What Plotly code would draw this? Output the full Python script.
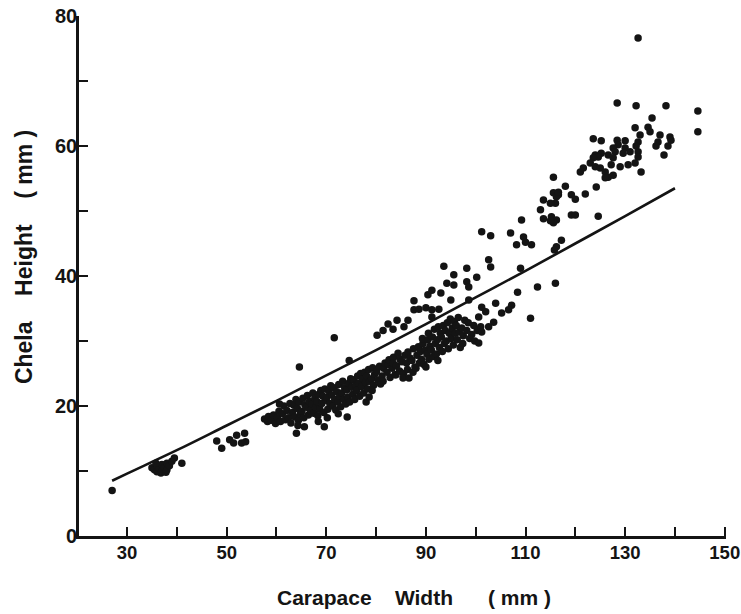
import plotly.graph_objects as go

# ---- data (Carapace width mm, Chela height mm) ----
small_pts = [
    (27, 7.0), (35, 10.5), (35.5, 10.2), (36, 10.8), (36, 9.9), (36.5, 10.4), (36.8, 9.7),
    (37, 10.0), (37, 11.0), (37.5, 10.5), (37.8, 9.8), (38, 10.2), (38, 11.2), (38.5, 10.8),
    (39, 11.5), (39.5, 12.0), (35.8, 11.2), (41, 11.2), (48, 14.6), (49, 13.5), (50.6, 14.8),
    (51.4, 14.3), (52, 15.5), (53, 14.3), (53.6, 15.8), (53.8, 14.5),
]

band_pts = [
    (57.6, 18.0), (58.2, 17.6), (58.4, 18.4), (59.0, 17.8), (59.4, 18.6), (59.8, 17.3),
    (60.2, 18.2), (60.5, 19.2), (60.8, 17.6), (61.2, 18.8), (61.5, 20.0), (61.8, 17.9),
    (62.1, 19.3), (62.4, 18.2), (62.7, 20.4), (62.9, 17.4), (63.2, 19.0), (63.5, 20.1),
    (63.7, 18.3), (63.9, 21.0), (64.2, 19.6), (64.4, 17.8), (64.6, 20.6), (64.8, 18.8),
    (64.3, 17.0), (65.1, 19.2), (65.3, 21.2), (65.5, 18.2), (65.7, 20.2), (65.6, 16.8),
    (66.0, 19.8), (66.2, 21.6), (66.4, 18.6), (66.6, 20.7), (66.8, 19.3), (67.1, 20.3),
    (67.3, 22.0), (67.5, 18.9), (67.7, 21.2), (67.9, 19.8), (68.1, 20.7), (68.3, 18.5),
    (68.5, 21.8), (68.7, 19.5), (68.9, 22.4), (68.4, 17.6), (69.1, 20.4), (69.3, 21.5),
    (69.5, 19.0), (69.7, 22.6), (69.9, 20.9), (70.1, 21.3), (70.3, 19.5), (70.5, 22.3),
    (70.7, 20.4), (70.9, 23.1), (70.2, 18.2), (71.1, 21.7), (71.3, 20.0), (71.5, 22.8),
    (71.7, 21.0), (71.9, 19.4), (72.1, 22.2), (72.3, 20.6), (72.5, 23.3), (72.7, 21.5),
    (72.9, 19.9), (72.4, 18.8), (73.1, 22.0), (73.3, 23.8), (73.5, 21.0), (73.7, 22.8),
    (73.9, 20.3), (74.1, 22.5), (74.3, 21.4), (74.5, 23.5), (74.7, 20.6), (74.9, 24.2),
    (74.2, 18.3), (75.1, 22.9), (75.3, 21.8), (75.5, 24.0), (75.7, 21.0), (75.9, 23.2),
    (76.1, 22.4), (76.3, 24.6), (76.5, 23.5), (76.7, 21.5), (76.9, 25.0), (77.1, 23.0),
    (77.3, 24.2), (77.5, 22.0), (77.7, 25.2), (77.9, 23.6), (78.1, 24.6), (78.3, 22.6),
    (78.5, 25.6), (78.7, 23.8), (78.0, 20.6), (78.6, 21.4), (79.1, 24.2), (79.3, 25.9),
    (79.5, 23.2), (79.7, 24.9), (79.2, 22.4), (80.1, 25.3), (80.4, 24.0), (80.7, 26.1),
    (80.9, 23.4), (81.2, 24.6), (81.5, 25.8), (81.8, 26.6), (81.4, 23.8), (82.2, 25.2),
    (82.5, 26.4), (82.8, 24.4), (82.6, 27.1), (83.2, 25.8), (83.5, 27.5), (83.8, 24.8),
    (83.4, 26.6), (84.1, 26.2), (84.4, 28.1), (84.0, 24.8), (84.7, 25.4), (84.8, 27.2),
    (85.2, 26.8), (85.5, 25.0), (85.8, 27.8), (85.4, 24.3), (86.1, 26.6), (86.4, 28.3),
    (86.6, 24.3), (86.8, 27.4), (86.3, 25.6), (87.2, 27.0), (87.5, 28.8), (87.8, 26.0),
    (87.4, 25.2), (88.0, 25.8), (88.2, 27.8), (88.5, 29.1), (88.7, 26.6), (88.9, 28.4),
    (89.1, 27.2), (89.4, 29.6), (89.6, 26.4), (89.8, 28.6), (89.3, 30.4), (90.0, 26.0),
    (90.2, 28.0), (90.4, 30.2), (90.6, 27.2), (90.8, 29.2), (90.5, 31.2), (91.1, 28.6),
    (91.3, 30.6), (91.5, 27.6), (91.7, 31.8), (91.9, 29.6), (92.1, 28.0), (92.3, 30.2),
    (92.5, 32.2), (92.7, 29.0), (92.9, 31.2), (92.4, 27.0), (93.1, 30.6), (93.3, 28.4),
    (93.5, 32.4), (93.7, 29.6), (93.9, 31.6), (94.1, 30.0), (94.3, 32.8), (94.5, 28.8),
    (94.7, 31.2), (94.9, 33.4), (95.1, 30.4), (95.3, 32.0), (95.5, 29.4), (95.7, 33.0),
    (95.9, 31.2), (96.1, 32.4), (96.3, 30.2), (96.5, 33.6), (96.7, 31.4), (96.9, 29.0),
    (97.2, 32.0), (97.5, 30.8), (97.8, 33.2), (97.4, 29.6), (98.2, 31.6), (98.5, 32.8),
    (98.8, 30.4), (99.2, 31.0), (99.6, 32.4), (99.8, 30.0), (100.3, 31.6), (100.6, 29.7),
    (101.0, 32.2), (101.2, 31.4),
    (64.0, 15.8), (69.6, 16.8), (60.6, 20.3), (64.6, 26.0), (71.6, 30.5), (74.6, 27.0),
]

upper_pts = [
    (80.2, 30.9), (81.4, 31.6), (82.4, 32.6), (83.4, 31.8), (84.2, 33.2), (85.6, 32.2),
    (86.4, 33.2), (87.6, 34.8), (88.6, 34.9), (90.0, 35.1), (91.2, 34.8), (92.6, 34.9),
    (87.6, 36.2), (90.4, 37.1), (91.2, 37.8), (93.0, 37.4), (93.6, 41.5), (95.6, 40.2),
    (98.2, 41.2), (100.2, 39.8), (94.2, 38.9), (95.6, 38.6), (98.2, 39.1), (98.6, 38.3),
    (98.6, 36.3), (95.0, 36.3), (102.6, 42.5), (103.0, 41.4), (101.2, 35.2), (102.0, 34.5),
    (100.6, 33.7), (91.2, 33.7),
]

right_pts = [
    (104.0, 35.8), (107.2, 35.5), (106.6, 34.8), (105.2, 34.3), (103.6, 32.9), (102.6, 32.2),
    (108.4, 37.5), (112.4, 38.3), (111.0, 33.5), (109.0, 41.2), (116.0, 38.9),
    (101.2, 46.8), (103.0, 46.2), (107.0, 46.6), (109.6, 46.0), (110.0, 45.2), (108.2, 44.8),
    (111.2, 44.8), (109.2, 48.6), (117.2, 45.5), (116.2, 44.5), (115.8, 44.0),
]

top_pts = [
    (115.6, 55.2), (118.0, 53.8), (121.0, 56.0), (121.6, 56.6), (124.2, 53.7), (122.0, 52.6),
    (119.2, 52.5), (120.0, 51.8), (115.6, 52.8), (116.2, 52.2), (116.0, 51.2), (115.0, 51.2),
    (113.6, 51.7), (113.0, 50.2), (116.6, 52.5), (119.2, 49.4), (120.0, 49.4), (124.6, 49.2),
    (113.6, 48.8), (115.2, 49.1), (116.2, 48.6), (115.6, 48.2), (115.0, 48.5), (116.6, 52.9),
    (132.6, 76.6), (128.4, 66.6), (132.2, 66.2), (138.2, 66.2), (144.6, 65.4), (144.6, 62.2),
    (135.4, 64.3), (132.0, 62.8), (134.6, 62.9), (135.0, 62.2), (133.0, 61.7), (132.6, 60.6),
    (132.2, 60.0), (137.0, 61.7), (136.6, 60.6), (136.2, 60.0), (139.0, 61.4), (139.2, 60.9),
    (138.6, 60.0), (137.8, 58.6), (123.6, 61.1), (125.2, 60.8), (128.4, 60.9), (130.0, 60.8),
    (128.6, 60.2), (127.6, 59.7), (130.0, 59.7), (131.0, 59.1), (132.6, 59.1), (129.6, 58.9),
    (128.0, 59.1), (124.0, 58.6), (125.2, 58.9), (126.6, 58.6), (124.6, 58.3), (123.6, 58.2),
    (123.0, 57.4), (124.0, 56.8), (125.0, 56.6), (127.2, 57.1), (127.6, 58.2), (129.0, 56.8),
    (130.6, 57.1), (132.0, 57.4), (132.6, 58.3), (126.0, 56.0), (126.6, 55.2), (127.6, 55.5),
    (126.0, 55.1), (133.2, 56.0),
]

curve_x = [27, 30, 40, 50, 60, 70, 80, 90, 100, 110, 120, 130, 140]
curve_y = [8.5, 9.6, 13.2, 17.0, 20.8, 24.7, 28.6, 32.6, 36.7, 40.8, 45.0, 49.2, 53.5]

x_major = [30, 50, 70, 90, 110, 130, 150]
x_minor = [40, 60, 80, 100, 120, 140]
y_major = [0, 20, 40, 60, 80]
y_minor = [10, 30, 50, 70]

all_pts = small_pts + band_pts + upper_pts + right_pts + top_pts
px = [p[0] for p in all_pts]
py = [p[1] for p in all_pts]

INK = "#141414"
FONT = "Liberation Sans, Arial, sans-serif"
SP = "\u00a0"

fig = go.Figure()
fig.add_trace(go.Scatter(x=curve_x, y=curve_y, mode="lines",
                         line=dict(color=INK, width=2.6, shape="spline"),
                         hoverinfo="skip", showlegend=False))
fig.add_trace(go.Scatter(x=px, y=py, mode="markers",
                         marker=dict(color=INK, size=7.5, line=dict(width=0)),
                         showlegend=False))

fig.update_layout(
    width=741, height=614, autosize=False,
    margin=dict(l=79, r=15, t=16, b=78, pad=0),
    paper_bgcolor="white", plot_bgcolor="white",
    xaxis=dict(range=[20.35, 150.25], tickmode="array", tickvals=x_major,
               ticktext=[str(v) for v in x_major],
               ticks="inside", ticklen=9, tickwidth=2.2, tickcolor=INK,
               minor=dict(tickmode="array", tickvals=x_minor, ticks="inside",
                          ticklen=9, tickwidth=2.2, tickcolor=INK, showgrid=False),
               showline=True, linewidth=2.6, linecolor=INK,
               showgrid=False, zeroline=False,
               tickfont=dict(family=FONT, size=18.5, color=INK, weight="bold"),
               ticklabelstandoff=-2,
               ticklabeloverflow="allow", automargin=False),
    yaxis=dict(range=[0, 80], tickmode="array", tickvals=y_major,
               ticktext=[str(v) for v in y_major],
               ticks="inside", ticklen=9, tickwidth=2.2, tickcolor=INK,
               minor=dict(tickmode="array", tickvals=y_minor, ticks="inside",
                          ticklen=9, tickwidth=2.2, tickcolor=INK, showgrid=False),
               showline=True, linewidth=2.6, linecolor=INK,
               showgrid=False, zeroline=False,
               tickfont=dict(family=FONT, size=20, color=INK, weight="bold"),
               ticklabelstandoff=-5,
               ticklabeloverflow="allow", automargin=False),
    annotations=[
        dict(text="Carapace" + SP * 4 + "Width" + SP * 6 + "(" + SP + "mm" + SP + ")",
             xref="paper", yref="paper", x=0.5185, y=-0.119,
             xanchor="center", yanchor="middle", showarrow=False,
             font=dict(family=FONT, size=21, color=INK, weight="bold")),
        dict(text="Chela" + SP * 4 + "Height" + SP * 4 + "(" + SP + "mm" + SP + ")",
             xref="paper", yref="paper", x=-0.0849, y=0.5365, textangle=-90,
             xanchor="center", yanchor="middle", showarrow=False,
             font=dict(family=FONT, size=23, color=INK, weight="bold")),
    ],
)

# remove the browser's default 8px body margin so the figure sits at the page origin
fig.write_html("out.html", config={"displayModeBar": False},
               post_script="document.body.style.margin='0';")
